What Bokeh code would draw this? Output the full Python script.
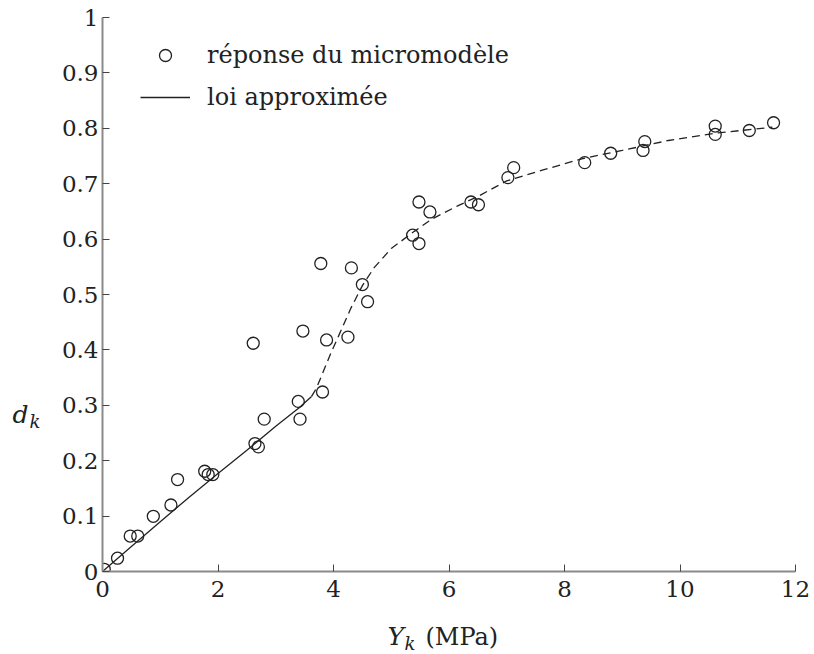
from bokeh.plotting import figure
from bokeh.models import Range1d, FixedTicker, Legend, LegendItem, Label
from bokeh.embed import file_html
from bokeh.resources import INLINE

# --- data ---
pts_x = [0.03, 0.26, 0.48, 0.61, 0.88, 1.185, 1.30, 1.77, 1.83, 1.91,
         2.64, 2.70, 2.80, 3.39, 3.42, 3.81,
         2.61, 3.47, 3.78, 4.31, 4.50, 4.59, 3.88, 4.25,
         5.37, 5.48, 5.48, 5.67, 6.38, 6.51, 7.02, 7.12, 8.35, 8.80,
         9.39, 9.36, 10.61, 10.61, 11.20, 11.62]
pts_y = [0.004, 0.024, 0.064, 0.064, 0.0996, 0.120, 0.166, 0.181, 0.175, 0.175,
         0.231, 0.225, 0.275, 0.307, 0.275, 0.324,
         0.412, 0.434, 0.556, 0.548, 0.518, 0.487, 0.418, 0.423,
         0.607, 0.592, 0.667, 0.649, 0.667, 0.662, 0.711, 0.729, 0.738, 0.755,
         0.776, 0.760, 0.804, 0.789, 0.796, 0.810]

solid_x = [0, 0.5, 1.0, 1.5, 2.0, 2.5, 3.0, 3.4, 3.62]
solid_y = [0, 0.045, 0.090, 0.134, 0.177, 0.219, 0.262, 0.295, 0.316]

dash_x = [3.62, 3.7, 3.8, 3.95, 4.1, 4.3, 4.5, 4.7, 5.0, 5.4, 5.7, 6.15, 6.5, 7.0, 7.6, 8.3, 9.0, 9.8, 10.6, 11.6]
dash_y = [0.316, 0.330, 0.355, 0.393, 0.428, 0.475, 0.516, 0.548, 0.583, 0.614, 0.636, 0.660, 0.677, 0.705, 0.724, 0.745, 0.760, 0.778, 0.791, 0.802]

x_ticks = [0, 2, 4, 6, 8, 10, 12]
y_ticks = [0, 0.1, 0.2, 0.3, 0.4, 0.5, 0.6, 0.7, 0.8, 0.9, 1]
y_tick_labels = ["0", "0.1", "0.2", "0.3", "0.4", "0.5", "0.6", "0.7", "0.8", "0.9", "1"]

legend_labels = ["réponse du micromodèle", "loi approximée"]

FONT = "DejaVu Serif"
INK = "#222222"

W, H = 814, 654
p = figure(width=W, height=H, output_backend="svg", toolbar_location=None,
           x_range=Range1d(0, 12), y_range=Range1d(0, 1),
           min_border_left=102, min_border_right=19, min_border_top=17, min_border_bottom=83)
p.outline_line_color = None
p.xgrid.visible = False
p.ygrid.visible = False
p.background_fill_color = "white"
p.border_fill_color = "white"

for ax in (p.xaxis[0], p.yaxis[0]):
    ax.axis_line_color = "#8a8a8a"
    ax.axis_line_width = 2
    ax.major_tick_in = 7
    ax.major_tick_out = 0
    ax.major_tick_line_color = "#444444"
    ax.major_tick_line_width = 1
    ax.minor_tick_line_color = None
    ax.major_label_text_font = FONT
    ax.major_label_text_font_size = "23px"
    ax.major_label_text_color = INK

p.xaxis[0].ticker = FixedTicker(ticks=x_ticks)
p.yaxis[0].ticker = FixedTicker(ticks=y_ticks)
p.yaxis[0].major_label_overrides = {t: s for t, s in zip(y_ticks, y_tick_labels)}
p.xaxis[0].major_label_overrides = {t: str(t) for t in x_ticks}
p.yaxis[0].major_label_standoff = 4
p.xaxis[0].major_label_standoff = 9

r_line = p.line(solid_x, solid_y, line_color=INK, line_width=1.3)
p.line(dash_x, dash_y, line_color=INK, line_width=1.3, line_dash="8 5")
r_pts = p.scatter(pts_x, pts_y, marker="circle", size=12, fill_color=None,
                  line_color=INK, line_width=1.3)

legend = Legend(items=[LegendItem(label=legend_labels[0], renderers=[r_pts]),
                       LegendItem(label=legend_labels[1], renderers=[r_line])],
                location=(38, 459), padding=0, margin=0, spacing=12,
                glyph_width=50, glyph_height=30, label_height=30,
                label_standoff=17, border_line_color=None,
                background_fill_alpha=0,
                label_text_font=FONT, label_text_font_size="24px",
                label_text_color=INK)
p.add_layout(legend, "center")

# axis titles with subscripts (canvas pixel positions), placed in side panels
def lab(x, y, text, size, side, style="normal"):
    p.add_layout(Label(x=x, y=y, x_units="canvas", y_units="canvas", text=text,
                       text_font=FONT, text_font_style=style, text_font_size=size,
                       text_color=INK, text_baseline="alphabetic", text_align="left"),
                 side)

lab(12, 414, "d", "25px", "left", "italic")
lab(29, 421, "k", "18px", "left", "italic")
lab(387, 636, "Y", "25px", "left", "italic")
lab(404, 643, "k", "18px", "left", "italic")
lab(425, 636, "(MPa)", "24px", "below")

open("out.html", "w").write(file_html(p, INLINE))
